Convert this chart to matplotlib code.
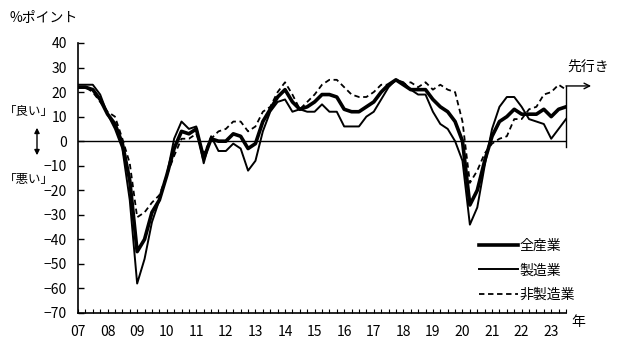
import numpy as np
import matplotlib
matplotlib.use('Agg')
import matplotlib.pyplot as plt
from matplotlib.ticker import FixedLocator

plt.rcParams['font.family'] = ['Noto Sans CJK JP', 'DejaVu Sans']

# quarterly DI, 2007Q1 .. 2023Q2 plus the outlook for 2023Q3
all_ind = [22, 22, 21, 17, 11, 7, -1, -16,
           -45, -40, -29, -24, -14, -3, 4, 3,
           5, -7, 1, 0, 0, 3, 2, -3,
           -1, 8, 13, 18, 21, 16, 13, 14,
           16, 19, 19, 18, 13, 12, 12, 14,
           16, 20, 23, 25, 23, 21, 21, 21,
           17, 14, 12, 8, 0, -26, -20, -8,
           2, 8, 10, 13, 11, 11, 11, 13,
           10, 13, 14]
manuf = [23, 23, 23, 19, 11, 5, -3, -24,
         -58, -48, -33, -24, -14, 1, 8, 5,
         6, -9, 2, -4, -4, -1, -3, -12,
         -8, 4, 12, 16, 17, 12, 13, 12,
         12, 15, 12, 12, 6, 6, 6, 10,
         12, 17, 22, 25, 24, 21, 19, 19,
         12, 7, 5, 0, -8, -34, -27, -10,
         5, 14, 18, 18, 14, 9, 8, 7,
         1, 5, 9]
non_manuf = [22, 22, 20, 16, 12, 10, 1, -9,
             -31, -29, -25, -22, -14, -6, 1, 1,
             3, -5, 1, 4, 5, 8, 8, 4,
             6, 12, 14, 20, 24, 19, 13, 16,
             19, 23, 25, 25, 22, 19, 18, 18,
             20, 23, 23, 25, 23, 24, 22, 24,
             21, 23, 21, 20, 8, -17, -12, -5,
             -1, 1, 2, 9, 9, 13, 14, 19,
             20, 23, 21]
years = list(range(2007, 2024))
year_labels = ['%02d' % (y % 100) for y in years]

t = 2007 + np.arange(len(all_ind)) / 4.0

fig = plt.figure(figsize=(6.2, 3.43), dpi=100)
ax = fig.add_axes([78/620, 1-313/343, (566-78)/620, (313-43)/343])

ax.plot(t, manuf, '-', color='black', lw=1.4, label='製造業', zorder=3)
ax.plot(t, non_manuf, '--', color='black', lw=1.3, dashes=(3, 2), label='非製造業', zorder=3)
ax.plot(t, all_ind, '-', color='black', lw=2.6, label='全産業', zorder=4)
ax.axhline(0, color='black', lw=1.0, zorder=2)

ax.set_xlim(2007, 2023.5)
ax.set_ylim(-70, 40)
ax.set_yticks(range(-70, 41, 10))
ax.set_xticks(years)
ax.set_xticklabels(year_labels)
ax.xaxis.set_minor_locator(FixedLocator(np.arange(2007, 2023.51, 0.25)))

ax.tick_params(axis='y', direction='in', length=4, width=1, pad=8, labelsize=10)
ax.tick_params(axis='x', which='both', direction='in', length=3, width=0.8, pad=9, labelsize=10)
for s in ['top', 'right']:
    ax.spines[s].set_visible(False)
for s in ['left', 'bottom']:
    ax.spines[s].set_linewidth(1.2)

# outlook marker
ax.plot([t[-1], t[-1]], [22.5, -2.5], color='black', lw=1.0, clip_on=False)
ax.annotate('', xy=(t[-1] + 0.85, 22.5), xytext=(t[-1], 22.5),
            arrowprops=dict(arrowstyle='->', color='black', lw=1.0,
                            shrinkA=0, shrinkB=0),
            annotation_clip=False)
fig.text(588/620, 1-67/343, '先行き', fontsize=10, ha='center', va='center')

handles, labels = ax.get_legend_handles_labels()
order = [2, 0, 1]
ax.legend([handles[i] for i in order], [labels[i] for i in order],
          loc='upper left', bbox_to_anchor=(0.81, 0.295), frameon=False,
          fontsize=10, handlelength=2.8, handletextpad=0.1, labelspacing=0.75,
          borderaxespad=0)

fig.text(44/620, 1-18/343, '%ポイント', fontsize=10, ha='center', va='center')
fig.text(29/620, 1-112/343, '「良い」', fontsize=9, ha='center', va='center')
fig.text(29/620, 1-180/343, '「悪い」', fontsize=9, ha='center', va='center')
fig.add_artist(matplotlib.patches.FancyArrowPatch(
    (37/620, 1-125/343), (37/620, 1-158/343), transform=fig.transFigure,
    arrowstyle='<|-|>,head_length=3,head_width=1.5', color='black', lw=1.0))
fig.text(578/620, 1-322/343, '年', fontsize=10, ha='center', va='center')

fig.savefig('out.png', dpi=100)
